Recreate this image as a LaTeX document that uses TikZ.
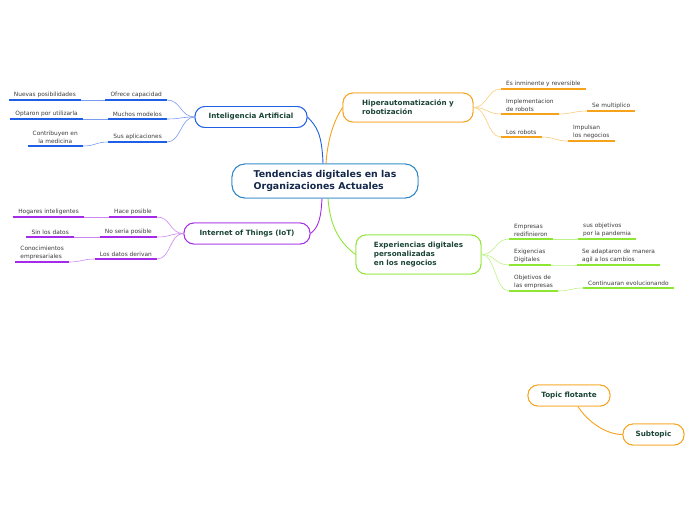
\documentclass[tikz,border=0pt]{standalone}
\usepackage{fontspec}
\setmainfont{DejaVu Sans}
\definecolor{cmain}{HTML}{2A84C6}
\definecolor{cblue}{HTML}{1F5FE6}
\definecolor{cbluel}{HTML}{7A9CF0}
\definecolor{corg}{HTML}{F7A21B}
\definecolor{corgl}{HTML}{FBCB7A}
\definecolor{cpur}{HTML}{A42CE8}
\definecolor{cpurl}{HTML}{CC86F2}
\definecolor{cgrn}{HTML}{8DE632}
\definecolor{cgrnl}{HTML}{BDF286}
\definecolor{ttl}{HTML}{1B4636}
\definecolor{mtl}{HTML}{14284B}
\definecolor{lt}{HTML}{3C3C3C}
\begin{document}
\begin{tikzpicture}[x=1pt,y=-1pt,
  mainbox/.style={draw=cmain, line width=0.9pt, rounded corners=13pt, fill=white,
    minimum width=186pt, minimum height=34pt, align=left, text=mtl,
    font=\bfseries\fontsize{9.4}{11.8}\selectfont},
  topicbox/.style={line width=0.9pt, rounded corners=10pt, fill=white, align=left,
    text=ttl, font=\bfseries\fontsize{7.2}{9.2}\selectfont},
  leaf/.style={align=left, inner xsep=5pt, inner ysep=2.4pt, text=lt,
    font=\fontsize{5.85}{8}\selectfont},
  uline/.style={line width=1.3pt},
  brline/.style={line width=0.6pt}]
\useasboundingbox (0,0) rectangle (696,520);

% ---------- main nodes ----------
\node[mainbox] (c) at (325,181) {Tendencias digitales en las\\Organizaciones Actuales};
\node[topicbox, draw=cblue, minimum width=112pt, minimum height=21pt] (ia) at (251,117) {Inteligencia Artificial};
\node[topicbox, draw=corg, minimum width=130pt, minimum height=29pt] (hi) at (408,107.5) {Hiperautomatización y\\robotización};
\node[topicbox, draw=cpur, minimum width=126pt, minimum height=21pt] (iot) at (247,233.5) {Internet of Things (IoT)};
\node[topicbox, draw=cgrn, minimum width=125pt, minimum height=39pt] (ex) at (418.5,254.5) {Experiencias digitales\\personalizadas\\en los negocios};

\draw[brline, cblue, line width=0.9pt] ([xshift=-2pt]c.north) .. controls +(-1,-30) and +(9,9) .. (ia.east);
\draw[brline, corg, line width=0.9pt] ([xshift=1pt]c.north) .. controls +(2,-30) and +(-6,9) .. (hi.west);
\draw[brline, cpur, line width=0.9pt] ([xshift=-3pt]c.south) .. controls +(-1,20) and +(8,-6) .. (iot.east);
\draw[brline, cgrn, line width=0.9pt] ([xshift=3pt]c.south) .. controls +(2,28) and +(-16,-12) .. (ex.west);
% redraw nodes on top of their connectors
\node[mainbox] at (c) {Tendencias digitales en las\\Organizaciones Actuales};
\node[topicbox, draw=cblue, minimum width=112pt, minimum height=21pt] at (ia) {Inteligencia Artificial};
\node[topicbox, draw=corg, minimum width=130pt, minimum height=29pt] at (hi) {Hiperautomatización y\\robotización};
\node[topicbox, draw=cpur, minimum width=126pt, minimum height=21pt] at (iot) {Internet of Things (IoT)};
\node[topicbox, draw=cgrn, minimum width=125pt, minimum height=39pt] at (ex) {Experiencias digitales\\personalizadas\\en los negocios};

% ---------- Inteligencia Artificial ----------
\node[leaf, anchor=south east] (a1) at (167,100) {Ofrece capacidad};
\node[leaf, anchor=south east] (a2) at (167,119) {Muchos modelos};
\node[leaf, anchor=south east] (a3) at (167,142) {Sus aplicaciones};
\node[leaf, anchor=south east] (a1b) at (81,100) {Nuevas posibilidades};
\node[leaf, anchor=south east] (a2b) at (83,119) {Optaron por utilizarla};
\node[leaf, anchor=south east, align=center] (a3b) at (83,146) {Contribuyen en\\la medicina};
\foreach \n in {a1,a2,a3,a1b,a2b,a3b}
  \draw[uline, cblue] (\n.south west) -- (\n.south east);
\foreach \n in {a1,a2,a3}
  \draw[brline, cbluel] (ia.west) .. controls +(-14,0) and +(14,0) .. (\n.south east);
\draw[brline, cbluel] (a1.south west) -- (a1b.south east);
\draw[brline, cbluel] (a2.south west) -- (a2b.south east);
\draw[brline, cbluel] (a3.south west) .. controls +(-12,0) and +(12,0) .. (a3b.south east);

% ---------- Hiperautomatizacion ----------
\node[leaf, anchor=south west] (b1) at (501,89) {Es inminente y reversible};
\node[leaf, anchor=south west] (b2) at (501,114) {Implementacion\\de robots};
\node[leaf, anchor=south west] (b3) at (501,137) {Los robots};
\node[leaf, anchor=south west] (b2b) at (587,111) {Se multiplico};
\node[leaf, anchor=south west] (b3b) at (568,141) {Impulsan\\los negocios};
\foreach \n in {b1,b2,b3,b2b,b3b}
  \draw[uline, corg] (\n.south west) -- (\n.south east);
\foreach \n in {b1,b2,b3}
  \draw[brline, corgl] (hi.east) .. controls +(14,0) and +(-14,0) .. (\n.south west);
\draw[brline, corgl] (b2.south east) .. controls +(12,0) and +(-12,0) .. (b2b.south west);
\draw[brline, corgl] (b3.south east) .. controls +(12,0) and +(-12,0) .. (b3b.south west);

% ---------- Internet of Things ----------
\node[leaf, anchor=south east] (c1) at (157,217) {Hace posible};
\node[leaf, anchor=south east] (c2) at (157,237) {No seria posible};
\node[leaf, anchor=south east] (c3) at (157,259) {Los datos derivan};
\node[leaf, anchor=south east] (c1b) at (84,217) {Hogares inteligentes};
\node[leaf, anchor=south east] (c2b) at (74,237) {Sin los datos};
\node[leaf, anchor=south east] (c3b) at (69,262) {Conocimientos\\empresariales};
\foreach \n in {c1,c2,c3,c1b,c2b,c3b}
  \draw[uline, cpur] (\n.south west) -- (\n.south east);
\foreach \n in {c1,c2,c3}
  \draw[brline, cpurl] (iot.west) .. controls +(-14,0) and +(14,0) .. (\n.south east);
\draw[brline, cpurl] (c1.south west) -- (c1b.south east);
\draw[brline, cpurl] (c2.south west) -- (c2b.south east);
\draw[brline, cpurl] (c3.south west) .. controls +(-12,0) and +(12,0) .. (c3b.south east);

% ---------- Experiencias digitales ----------
\node[leaf, anchor=south west] (d1) at (509,239) {Empresas\\redifinieron};
\node[leaf, anchor=south west] (d2) at (509,265) {Exigencias\\Digitales};
\node[leaf, anchor=south west] (d3) at (509,291) {Objetivos de\\las empresas};
\node[leaf, anchor=south west] (d1b) at (578,239) {sus objetivos\\por la pandemia};
\node[leaf, anchor=south west] (d2b) at (577,265) {Se adaptaron de manera\\agil a los cambios};
\node[leaf, anchor=south west] (d3b) at (583,288) {Continuaran evolucionando};
\foreach \n in {d1,d2,d3,d1b,d2b,d3b}
  \draw[uline, cgrn] (\n.south west) -- (\n.south east);
\foreach \n in {d1,d2,d3}
  \draw[brline, cgrnl] (ex.east) .. controls +(14,0) and +(-14,0) .. (\n.south west);
\draw[brline, cgrnl] (d1.south east) .. controls +(12,0) and +(-12,0) .. (d1b.south west);
\draw[brline, cgrnl] (d2.south east) .. controls +(12,0) and +(-12,0) .. (d2b.south west);
\draw[brline, cgrnl] (d3.south east) .. controls +(12,0) and +(-12,0) .. (d3b.south west);

% ---------- floating topic ----------
\node[topicbox, draw=corg, minimum width=82pt, minimum height=21pt] (tf) at (569,395.5) {Topic flotante};
\node[topicbox, draw=corg, minimum width=61pt, minimum height=21pt] (st) at (653.5,434.5) {Subtopic};
\draw[brline, corg, line width=0.9pt] ([xshift=9pt]tf.south) .. controls +(10,16) and +(-16,0) .. (st.west);
\node[topicbox, draw=corg, minimum width=82pt, minimum height=21pt] at (tf) {Topic flotante};
\node[topicbox, draw=corg, minimum width=61pt, minimum height=21pt] at (st) {Subtopic};
\end{tikzpicture}
\end{document}
